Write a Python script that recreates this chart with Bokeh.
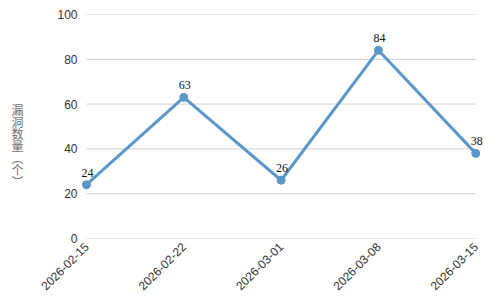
import math
from bokeh.plotting import figure
from bokeh.layouts import row
from bokeh.models import ColumnDataSource, FixedTicker, LabelSet, Div
from bokeh.embed import file_html
from bokeh.resources import INLINE

dates = ["2026-02-15", "2026-02-22", "2026-03-01", "2026-03-08", "2026-03-15"]
counts = [24, 63, 26, 84, 38]
y_ticks = [0, 20, 40, 60, 80, 100]
y_title = "漏洞数量（个）"

W, H = 492, 297
TW = 34  # width of the title strip

# ---- vertical y-axis title (upright stacked characters, like CJK vertical writing) ----
title_div = Div(
    text=('<div style="writing-mode:vertical-rl;font-family:\'Noto Sans CJK SC\';font-size:12px;'
          'line-height:12px;color:#707070;margin:104px 0 0 11px;">%s</div>' % y_title),
    width=TW, height=H, margin=(0, 0, 0, 0))

# ---- main chart ----
xs = list(range(len(dates)))
src = ColumnDataSource(dict(x=xs, y=counts, lbl=[str(c) for c in counts]))
grid_src = ColumnDataSource(dict(x0=[xs[0]] * len(y_ticks), x1=[xs[-1]] * len(y_ticks), y=y_ticks))

p = figure(width=W - TW, height=H, output_backend="svg", toolbar_location=None,
           x_range=(-0.051, len(dates) - 1 + 0.09), y_range=(0, 100),
           min_border_left=81 - TW, min_border_right=8, min_border_top=14, min_border_bottom=56)
p.outline_line_color = None
p.background_fill_color = "white"
p.border_fill_color = "white"

p.segment(x0="x0", y0="y", x1="x1", y1="y", source=grid_src, line_color="#d0d0d0", line_width=1)
p.line("x", "y", source=src, line_color="#5b97c9", line_width=3)
p.scatter("x", "y", source=src, size=8, fill_color="#5b97c9", line_color="#5b97c9")

labels = LabelSet(x="x", y="y", text="lbl", source=src, x_offset=1, y_offset=8,
                  text_align="center", text_baseline="bottom", text_font_size="12px",
                  text_color="#111111", text_font="Liberation Sans")
p.add_layout(labels)

p.xaxis.ticker = FixedTicker(ticks=xs)
p.xaxis.major_label_overrides = {i: d for i, d in enumerate(dates)}
p.xaxis.major_label_orientation = math.pi / 4
p.yaxis.ticker = FixedTicker(ticks=y_ticks)

for ax in (p.xaxis, p.yaxis):
    ax.axis_line_color = None
    ax.major_tick_line_color = None
    ax.minor_tick_line_color = None
    ax.major_label_text_font_size = "12px"
    ax.major_label_text_color = "#333333"
    ax.major_label_text_font = "Liberation Sans"
p.yaxis.major_label_standoff = -2
p.xaxis.major_label_standoff = 0

p.xgrid.grid_line_color = None
p.ygrid.grid_line_color = None

layout = row(title_div, p, spacing=0)
open("out.html", "w").write(file_html(layout, INLINE))
